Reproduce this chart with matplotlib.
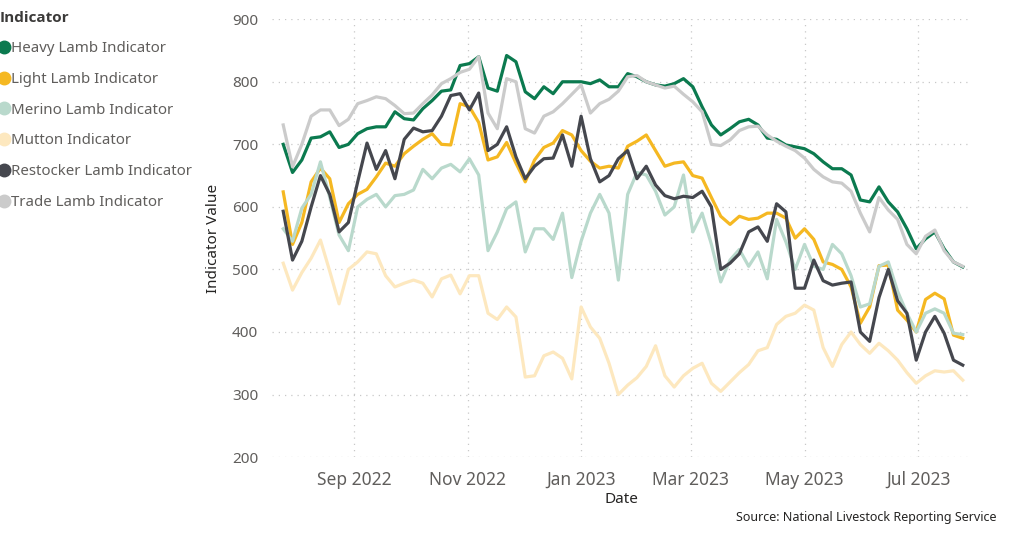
import pandas as pd
import matplotlib.pyplot as plt
import matplotlib.dates as mdates
from matplotlib.lines import Line2D

plt.rcParams['font.family'] = ['Noto Sans', 'DejaVu Sans']

dates = pd.date_range('2022-07-25', periods=74, freq='5D')

heavy = [700, 655, 675, 710, 712, 720, 695, 700, 717, 725, 728, 728, 752, 741, 739, 757, 770, 785,
         787, 826, 829, 840, 790, 785, 842, 832, 784, 773, 792, 781, 800, 800, 800, 797, 803, 792, 792,
         813, 808, 800, 795, 793, 797, 805, 792, 760, 731, 715, 725, 736, 740, 731, 710, 708, 699,
         696, 693, 685, 672, 661, 661, 651, 611, 608, 632, 608, 592, 565, 533, 549, 560, 533, 512, 504]
light = [624, 540, 575, 640, 662, 645, 575, 605, 620, 628, 648, 670, 665, 685, 697, 708, 717, 700,
         699, 765, 760, 735, 675, 680, 703, 670, 640, 675, 695, 702, 722, 715, 690, 673, 662, 665, 662,
         697, 705, 715, 690, 665, 670, 672, 650, 646, 615, 585, 572, 585, 580, 582, 590, 590, 582,
         550, 565, 548, 512, 508, 500, 472, 414, 440, 506, 507, 435, 419, 400, 452, 462, 453, 395, 390]
merino = [565, 545, 598, 620, 672, 615, 555, 530, 600, 612, 620, 600, 618, 620, 627, 660, 645, 662,
          668, 656, 677, 651, 530, 560, 597, 608, 528, 565, 565, 548, 590, 487, 545, 590, 620, 590, 483,
          620, 655, 651, 625, 587, 600, 651, 560, 590, 540, 480, 515, 532, 505, 528, 485, 580, 544,
          500, 540, 505, 500, 540, 525, 490, 440, 445, 505, 512, 465, 430, 400, 430, 437, 430, 398, 396]
mutton = [510, 467, 495, 518, 547, 497, 445, 500, 512, 528, 525, 490, 472, 478, 483, 478, 456, 485,
          491, 461, 490, 490, 430, 420, 440, 424, 328, 330, 362, 368, 358, 325, 440, 408, 390, 350, 300,
          315, 327, 345, 378, 330, 312, 330, 342, 350, 318, 305, 320, 335, 348, 370, 375, 412, 425,
          430, 443, 435, 375, 345, 380, 400, 380, 366, 382, 370, 355, 335, 318, 330, 338, 336, 338, 323]
restocker = [593, 515, 545, 600, 650, 620, 560, 575, 640, 702, 660, 690, 645, 708, 726, 720, 722, 745,
             778, 781, 755, 782, 690, 700, 728, 680, 645, 665, 677, 678, 715, 665, 745, 677, 640, 650, 677,
             690, 645, 665, 635, 618, 613, 617, 615, 625, 600, 500, 510, 525, 560, 568, 545, 605, 592,
             470, 470, 515, 482, 475, 478, 480, 400, 385, 455, 500, 450, 430, 355, 400, 425, 398, 355, 347]
trade = [731, 664, 700, 745, 755, 755, 730, 740, 765, 770, 776, 773, 762, 749, 750, 765, 779, 797,
         805, 815, 820, 840, 750, 725, 805, 800, 725, 718, 745, 752, 765, 780, 795, 750, 765, 772, 785,
         808, 810, 800, 795, 790, 793, 780, 768, 752, 700, 698, 707, 722, 728, 729, 715, 705, 697,
         690, 678, 660, 648, 640, 638, 625, 590, 560, 615, 595, 580, 540, 525, 553, 563, 530, 512, 505]

names = ['Heavy Lamb Indicator', 'Light Lamb Indicator', 'Merino Lamb Indicator',
         'Mutton Indicator', 'Restocker Lamb Indicator', 'Trade Lamb Indicator']
series = [heavy, light, merino, mutton, restocker, trade]
colors = ['#0b7a4f', '#f5b822', '#b9d9cc', '#fde8bf', '#45474e', '#cbcbcb']

fig = plt.figure(figsize=(10.17, 5.34), dpi=100)
ax = fig.add_axes([0.2675, 0.144, 0.6865, 0.82])

for name, vals, c in zip(names, series, colors):
    ax.plot(dates, vals, color=c, lw=2.3, label=name, solid_joinstyle='round')

ax.set_ylim(200, 900)
ax.set_xlim(pd.Timestamp('2022-07-19'), pd.Timestamp('2023-07-29'))
ax.xaxis.set_major_locator(mdates.MonthLocator(bymonth=[1, 3, 5, 7, 9, 11]))
ax.xaxis.set_major_formatter(mdates.DateFormatter('%b %Y'))
ax.set_yticks(range(200, 901, 100))

ax.grid(True, color='#c8c8c8', linestyle=(0, (1, 4)), lw=0.9)
for s in ax.spines.values():
    s.set_visible(False)
ax.tick_params(length=0)
ax.tick_params(axis='x', labelsize=12.5, colors='#605e5c', pad=10)
ax.tick_params(axis='y', labelsize=11, colors='#605e5c', pad=10)

ax.set_xlabel('Date', fontsize=11, color='#252423', labelpad=2)
ax.set_ylabel('Indicator Value', fontsize=11, color='#252423', labelpad=8)

handles = [Line2D([], [], marker='o', ls='none', color=c, markersize=9) for c in colors]
leg = fig.legend(handles, names, loc='upper left', bbox_to_anchor=(-0.014, 1.004),
                 frameon=False, title='Indicator', fontsize=10.8, handlelength=0.6,
                 handletextpad=0.2, labelspacing=1.05, alignment='left',
                 labelcolor='#605e5c',
                 title_fontproperties={'family': ['Open Sans', 'DejaVu Sans'],
                                       'weight': 'bold', 'size': 11})
leg.get_title().set_color('#3b3a39')

fig.text(0.98, 0.024, 'Source: National Livestock Reporting Service', ha='right',
         fontsize=9, color='#252423')

fig.savefig('out.png', dpi=100)
